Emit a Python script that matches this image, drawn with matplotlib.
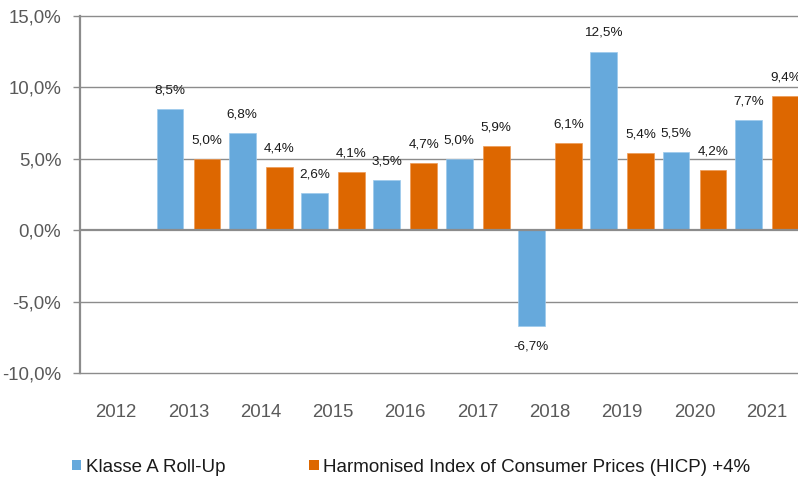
import numpy as np
import matplotlib
matplotlib.use("Agg")
import matplotlib.pyplot as plt
from matplotlib.patches import Patch

years = ['2012', '2013', '2014', '2015', '2016', '2017', '2018', '2019', '2020', '2021']
klasse_a = [np.nan, 8.5, 6.8, 2.6, 3.5, 5.0, -6.7, 12.5, 5.5, 7.7]
hicp = [np.nan, 5.0, 4.4, 4.1, 4.7, 5.9, 6.1, 5.4, 4.2, 9.4]
series_names = ['Klasse A Roll-Up', 'Harmonised Index of Consumer Prices (HICP) +4%']
yticks = [-10, -5, 0, 5, 10, 15]

BLUE = '#66A9DC'
ORANGE = '#DD6700'
GRID = '#8C8C8C'
TICKTXT = '#595959'


def pct(v):
    return ('%.1f%%' % v).replace('.', ',')


plt.rcParams['font.family'] = ['Liberation Sans', 'DejaVu Sans']

fig = plt.figure(figsize=(7.98, 4.79), dpi=100)
ax = fig.add_axes([80 / 798, 105.7 / 479, 723 / 798, 357.3 / 479])

x = np.arange(len(years))
off = 0.256
w = 0.37
b1 = ax.bar(x - off, klasse_a, w, color=BLUE, edgecolor='#9CC9EC', linewidth=0.5, zorder=3)
b2 = ax.bar(x + off, hicp, w, color=ORANGE, edgecolor='#EE9A55', linewidth=0.5, zorder=3)

for bars, vals in ((b1, klasse_a), (b2, hicp)):
    for rect, v in zip(bars, vals):
        if np.isnan(v):
            continue
        cx = rect.get_x() + rect.get_width() / 2
        dy = 13.5 if v >= 0 else -14.5
        ax.annotate(pct(v), (cx, v), xytext=(0, dy), textcoords='offset points',
                    ha='center', va='center', fontsize=9.7, color='#1A1A1A',
                    annotation_clip=False)

ax.set_xlim(-0.5, len(years) - 0.5)
ax.set_ylim(-10, 15)
ax.set_yticks(yticks)
ax.set_yticklabels([pct(v) for v in yticks])
ax.tick_params(axis='y', length=5, width=1, color=GRID, labelsize=13.4,
               labelcolor=TICKTXT, pad=8.5)
ax.set_xticks(x)
ax.set_xticklabels(years)
ax.tick_params(axis='x', length=0, labelsize=13.4, labelcolor=TICKTXT, pad=22)

for s in ['top', 'right', 'bottom']:
    ax.spines[s].set_visible(False)
ax.spines['left'].set_color(GRID)
ax.spines['left'].set_linewidth(1.6)
ax.spines['left'].set_zorder(4)

for v in yticks:
    if v == 0:
        continue
    ax.axhline(v, color=GRID, lw=1.0, zorder=1, clip_on=False)
ax.axhline(0, color=GRID, lw=1.6, zorder=4)

handles = [Patch(facecolor=BLUE), Patch(facecolor=ORANGE)]
fig.legend(handles, series_names, loc='center left', bbox_to_anchor=(72 / 798, 12 / 479),
           ncol=2, frameon=False, fontsize=13.5, borderpad=0, borderaxespad=0,
           handlelength=0.5, handleheight=0.5, handletextpad=0.22,
           columnspacing=4.5, labelcolor='#1A1A1A')

fig.savefig('out.png', dpi=100)
